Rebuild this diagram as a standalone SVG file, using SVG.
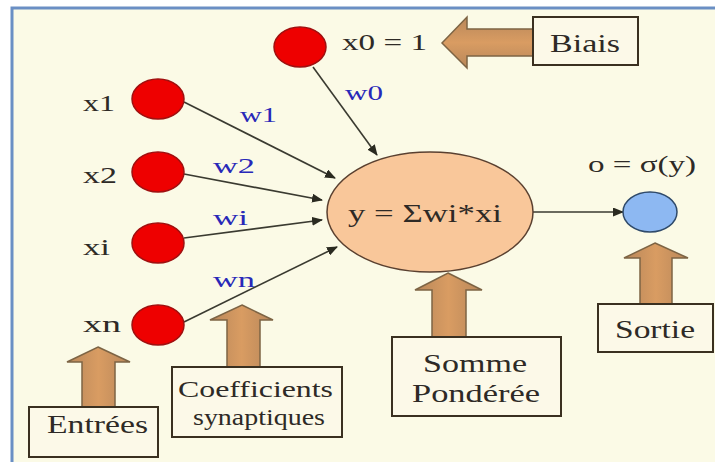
<svg xmlns="http://www.w3.org/2000/svg" width="715" height="462" viewBox="0 0 715 462">
<defs>
<style>
text{font-family:"Liberation Serif","Times New Roman",serif;fill:#2E2A26}
.t{font-size:23px}
.w{fill:#2828B8;font-size:22px}
.b{font-size:26px}
.in{fill:#EE0000;stroke:#A01010;stroke-width:1.5}
.box{fill:#FCF9E8;stroke:#3A3020;stroke-width:2}
.big{fill:url(#g);stroke:#7D6444;stroke-width:1.5}
.bigh{fill:url(#gh);stroke:#7D6444;stroke-width:1.5}
.c{stroke:#3A3A30;stroke-width:1.6;fill:none;marker-end:url(#ah)}
</style>
<linearGradient id="g" x1="0" y1="0" x2="1" y2="0">
<stop offset="0" stop-color="#B8875A"/><stop offset="0.5" stop-color="#D99C62"/><stop offset="1" stop-color="#B8875A"/>
</linearGradient>
<linearGradient id="gh" x1="0" y1="0" x2="0" y2="1">
<stop offset="0" stop-color="#B8875A"/><stop offset="0.5" stop-color="#D99C62"/><stop offset="1" stop-color="#B8875A"/>
</linearGradient>
<marker id="ah" markerWidth="11" markerHeight="9" refX="10" refY="4.5" orient="auto" markerUnits="userSpaceOnUse">
<path d="M0,0 L11,4.5 L0,9 Z" fill="#2A2A20"/>
</marker>
</defs>
<rect x="0" y="0" width="715" height="462" fill="#FFFFFF"/>
<rect x="12" y="8" width="710" height="470" fill="#FBFAE6" stroke="#6A8FC4" stroke-width="3"/>

<g id="connectors">
<line class="c" x1="313" y1="67" x2="377" y2="155"/>
<line class="c" x1="184" y1="102" x2="335" y2="178"/>
<line class="c" x1="184" y1="174" x2="322" y2="200"/>
<line class="c" x1="184" y1="238" x2="322" y2="220"/>
<line class="c" x1="184" y1="322" x2="337" y2="247"/>
<line class="c" x1="533" y1="212" x2="623" y2="212"/>
</g>

<g id="node-x0">
<ellipse class="in" cx="300" cy="47" rx="26" ry="20"/>
<text class="t" x="342" y="50" textLength="85" lengthAdjust="spacingAndGlyphs">x0 = 1</text>
<text class="w" x="345" y="100" textLength="38" lengthAdjust="spacingAndGlyphs">w0</text>
</g>
<g id="node-x1">
<ellipse class="in" cx="158" cy="99" rx="26" ry="20"/>
<text class="t" x="83" y="111" textLength="32" lengthAdjust="spacingAndGlyphs">x1</text>
<text class="w" x="240" y="122" textLength="37" lengthAdjust="spacingAndGlyphs">w1</text>
</g>
<g id="node-x2">
<ellipse class="in" cx="158" cy="172" rx="26" ry="20"/>
<text class="t" x="83" y="183" textLength="34" lengthAdjust="spacingAndGlyphs">x2</text>
<text class="w" x="213" y="173" textLength="42" lengthAdjust="spacingAndGlyphs">w2</text>
</g>
<g id="node-xi">
<ellipse class="in" cx="158" cy="243" rx="26" ry="20"/>
<text class="t" x="83" y="255" textLength="27" lengthAdjust="spacingAndGlyphs">xi</text>
<text class="w" x="213" y="225" textLength="35" lengthAdjust="spacingAndGlyphs">wi</text>
</g>
<g id="node-xn">
<ellipse class="in" cx="158" cy="325" rx="26" ry="20"/>
<text class="t" x="83" y="332" textLength="38" lengthAdjust="spacingAndGlyphs">xn</text>
<text class="w" x="213" y="287" textLength="42" lengthAdjust="spacingAndGlyphs">wn</text>
</g>

<g id="node-sum">
<ellipse cx="430" cy="212" rx="103" ry="60" fill="#F9C79A" stroke="#5A4030" stroke-width="1.5"/>
<text x="348" y="222" style="font-size:25px" textLength="154" lengthAdjust="spacingAndGlyphs">y = Σwi*xi</text>
</g>

<g id="node-out">
<ellipse cx="650" cy="212" rx="27" ry="20" fill="#8DB8F2" stroke="#2F4A6A" stroke-width="1.5"/>
<text class="t" x="588" y="172" textLength="108" lengthAdjust="spacingAndGlyphs">o = σ(y)</text>
</g>

<g id="label-biais">
<path class="bigh" d="M442,43 L467,17 L467,29 L533,29 L533,56 L467,56 L467,68 Z"/>
<rect class="box" x="533" y="17" width="105" height="48"/>
<text class="b" x="550" y="52" textLength="70" lengthAdjust="spacingAndGlyphs">Biais</text>
</g>

<g id="label-sortie">
<path class="big" d="M655,243 L688,258 L672,258 L672,304 L640,304 L640,258 L624,258 Z"/>
<rect class="box" x="598" y="304" width="115" height="48"/>
<text class="b" x="615" y="338" textLength="80" lengthAdjust="spacingAndGlyphs">Sortie</text>
</g>

<g id="label-somme">
<path class="big" d="M448,273 L482,290 L466,290 L466,337 L432,337 L432,290 L415,290 Z"/>
<rect class="box" x="392" y="337" width="169" height="79"/>
<text class="b" x="423" y="372" textLength="104" lengthAdjust="spacingAndGlyphs">Somme</text>
<text class="b" x="412" y="402" textLength="128" lengthAdjust="spacingAndGlyphs">Pondérée</text>
</g>

<g id="label-coef">
<path class="big" d="M242,305 L273,320 L260,320 L260,367 L227,367 L227,320 L210,320 Z"/>
<rect class="box" x="172" y="367" width="170" height="70"/>
<text x="178" y="397" style="font-size:24px" textLength="155" lengthAdjust="spacingAndGlyphs">Coefficients</text>
<text x="193" y="425" style="font-size:24px" textLength="132" lengthAdjust="spacingAndGlyphs">synaptiques</text>
</g>

<g id="label-entrees">
<path class="big" d="M98,347 L130,362 L115,362 L115,407 L82,407 L82,362 L67,362 Z"/>
<rect class="box" x="29" y="407" width="129" height="50"/>
<text class="b" x="47" y="433" textLength="101" lengthAdjust="spacingAndGlyphs">Entrées</text>
</g>
</svg>
